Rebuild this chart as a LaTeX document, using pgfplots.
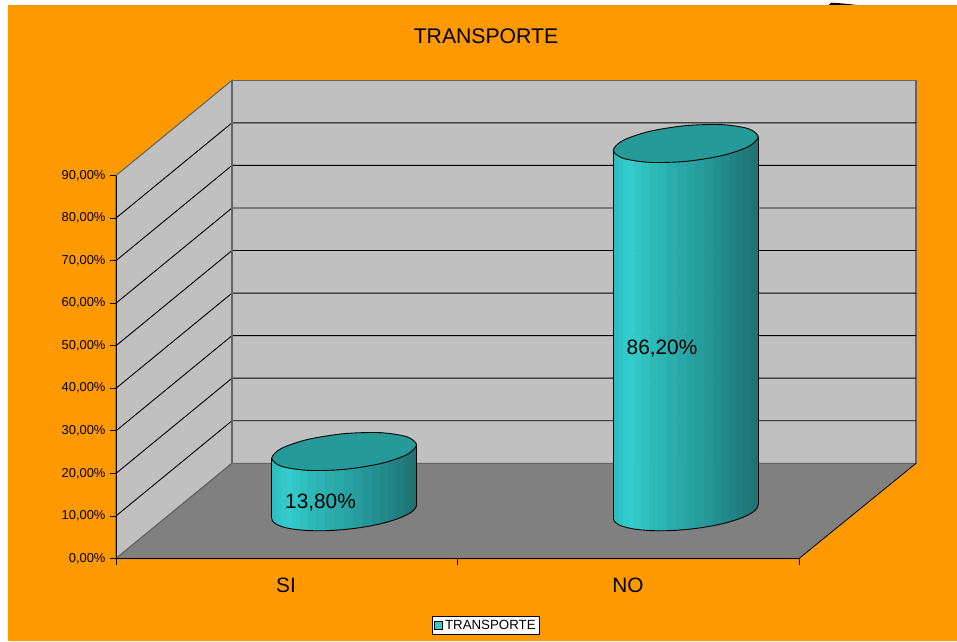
\documentclass[border=0pt]{standalone}
\usepackage{pgfplots}
\usepackage{pgfplotstable}
\usepackage{fontspec}
\setmainfont{Liberation Sans}
\pgfplotsset{compat=1.18}
\definecolor{orangebg}{RGB}{255,153,0}
\definecolor{wall}{RGB}{192,192,192}
\definecolor{floorc}{RGB}{128,128,128}
\definecolor{edgec}{RGB}{100,100,100}
\definecolor{topc}{RGB}{38,153,153}
\definecolor{legc}{RGB}{51,204,204}
\pgfplotstableread{
dx dy
72.4 1.58
62.7 3.47
36.2 4.43
0 4.20
-36.2 2.85
-62.7 0.73
-72.4 -1.58
-62.7 -3.47
-36.2 -4.43
0 -4.20
36.2 -2.85
62.7 -0.73
}\ellipsetable
\pgfplotstableread{
dx dy r
-72.4 -1.58 1
-71.8 -2.11 1
-69.9 -2.61 1
-66.9 -3.07 1
-62.7 -3.47 1
-57.4 -3.81 1
-51.2 -4.09 1
-44.1 -4.29 1
-36.2 -4.43 1
-27.7 -4.49 1
-18.7 -4.47 1
-9.4 -4.37 1
0 -4.20 1
9.4 -3.96 1
18.7 -3.65 1
27.7 -3.28 1
36.2 -2.85 1
44.1 -2.37 1
51.2 -1.85 1
57.4 -1.30 1
62.7 -0.73 1
66.9 -0.15 1
69.9 0.44 1
71.8 1.02 1
72.4 1.58 1
-72.4 -1.58 0
-71.8 -2.11 0
-69.9 -2.61 0
-66.9 -3.07 0
-62.7 -3.47 0
-57.4 -3.81 0
-51.2 -4.09 0
-44.1 -4.29 0
-36.2 -4.43 0
-27.7 -4.49 0
-18.7 -4.47 0
-9.4 -4.37 0
0 -4.20 0
9.4 -3.96 0
18.7 -3.65 0
27.7 -3.28 0
36.2 -2.85 0
44.1 -2.37 0
51.2 -1.85 0
57.4 -1.30 0
62.7 -0.73 0
66.9 -0.15 0
69.9 0.44 0
71.8 1.02 0
72.4 1.58 0
}\bodytable
\begin{document}
\begin{tikzpicture}
\useasboundingbox (0,0) rectangle (957pt,641pt);
\fill[orangebg] (8pt,0) rectangle (957pt,636pt);
\fill[black] (829pt,636pt) -- (831pt,638.3pt) -- (842pt,637.6pt) -- (857pt,636pt) -- cycle;
\begin{axis}[
  at={(116pt,82.5pt)}, anchor=south west,
  scale only axis, width=683pt, height=383pt,
  xmin=116, xmax=799, ymin=0, ymax=90,
  clip=false, axis on top,
  axis x line*=bottom, axis y line*=left,
  axis line style={black, line width=0.9pt},
  xtick={116,457.5,799}, xticklabels={,,},
  extra x ticks={286,628}, extra x tick labels={SI,NO},
  extra x tick style={major tick length=0pt},
  x tick label style={font=\fontsize{20.8}{24}\selectfont, text=black, yshift=-16pt},
  x tick style={black, line width=0.7pt},
  ytick={0,10,...,90},
  yticklabels={{0,00\%},{10,00\%},{20,00\%},{30,00\%},{40,00\%},{50,00\%},{60,00\%},{70,00\%},{80,00\%},{90,00\%}},
  y tick label style={font=\fontsize{12.9}{15}\selectfont, text=black, xshift=-0.5pt},
  y tick style={black, line width=0.7pt},
  tickwidth=6.5pt,
  tick align=outside, tick pos=lower,
  colormap={cylband}{rgb255(0)=(44,188,188) rgb255(12)=(51,206,206) rgb255(30)=(45,182,182) rgb255(50)=(41,165,165) rgb255(70)=(36,146,146) rgb255(86)=(32,128,128) rgb255(100)=(31,112,112)},
  point meta min=-72.4, point meta max=72.4,
  legend style={at={(axis cs:486,-15.7)}, anchor=center, draw=black, line width=0.7pt,
    fill=white, font=\fontsize{13.3}{15}\selectfont, inner xsep=2pt, inner ysep=1.5pt,
    /tikz/every even column/.style={column sep=2pt}, row sep=0pt},
  legend image code/.code={\draw[fill=legc,draw=black,line width=0.7pt] (0pt,-4pt) rectangle (8pt,4pt);},
]
% walls and floor
\addplot[fill=wall, draw=edgec, line width=1.1pt] coordinates {(116,0) (232,22.37) (232,112.37) (116,90)} -- cycle;
\addplot[fill=wall, draw=edgec, line width=1.1pt] coordinates {(232,22.37) (916,22.37) (916,112.37) (232,112.37)} -- cycle;
\addplot[fill=floorc, draw=edgec, line width=1.1pt] coordinates {(116,0) (799,0) (916,22.37) (232,22.37)} -- cycle;
\addplot[black, line width=0.6pt] coordinates {(799,0) (916,22.37)};
% gridlines
\addplot[black, line width=0.9pt] coordinates {(116,10) (232,32.37) (916,32.37)};
\addplot[black, line width=0.9pt] coordinates {(116,20) (232,42.37) (916,42.37)};
\addplot[black, line width=0.9pt] coordinates {(116,30) (232,52.37) (916,52.37)};
\addplot[black, line width=0.9pt] coordinates {(116,40) (232,62.37) (916,62.37)};
\addplot[black, line width=0.9pt] coordinates {(116,50) (232,72.37) (916,72.37)};
\addplot[black, line width=0.9pt] coordinates {(116,60) (232,82.37) (916,82.37)};
\addplot[black, line width=0.9pt] coordinates {(116,70) (232,92.37) (916,92.37)};
\addplot[black, line width=0.9pt] coordinates {(116,80) (232,102.37) (916,102.37)};
\addplot[edgec, line width=1.1pt] coordinates {(232,22.37) (232,112.37)};
% SI cylinder
\addplot[surf, shader=flat, mesh/rows=2, mesh/cols=25, mesh/check=false, point meta=explicit]
  table[x expr=\thisrow{dx}+344.1, y expr=\thisrow{dy}+11.0+\thisrow{r}*14.14, meta=dx] {\bodytable};
\addplot[black, line width=0.9pt, skip coords between index={0}{25}]
  table[x expr=\thisrow{dx}+344.1, y expr=\thisrow{dy}+11.0] {\bodytable};
\addplot[black, line width=0.9pt] coordinates {(271.7,23.56) (271.7,9.42)};
\addplot[black, line width=0.9pt] coordinates {(416.5,12.58) (416.5,26.72)};
\addplot[smooth cycle, fill=topc, draw=black, line width=0.9pt] table[x expr=\thisrow{dx}+344.1, y expr=\thisrow{dy}+25.14] {\ellipsetable};
% NO cylinder
\addplot[surf, shader=flat, mesh/rows=2, mesh/cols=25, mesh/check=false, point meta=explicit]
  table[x expr=\thisrow{dx}+685.7, y expr=\thisrow{dy}+11.0+\thisrow{r}*86.52, meta=dx] {\bodytable};
\addplot[black, line width=0.9pt, skip coords between index={0}{25}]
  table[x expr=\thisrow{dx}+685.7, y expr=\thisrow{dy}+11.0] {\bodytable};
\addplot[black, line width=0.9pt] coordinates {(613.3,95.94) (613.3,9.42)};
\addplot[black, line width=0.9pt] coordinates {(758.1,12.58) (758.1,99.1)};
\addplot[smooth cycle, fill=topc, draw=black, line width=0.9pt] table[x expr=\thisrow{dx}+685.7, y expr=\thisrow{dy}+97.52] {\ellipsetable};
\addlegendimage{area legend}
\addlegendentry{TRANSPORTE}
\node[font=\fontsize{20.8}{24}\selectfont, text=black] at (axis cs:320.5,13.1) {13,80\%};
\node[font=\fontsize{20.8}{24}\selectfont, text=black] at (axis cs:662,49.3) {86,20\%};
\node[font=\fontsize{21.2}{24}\selectfont, text=black] at (axis cs:486,122.8) {TRANSPORTE};
\end{axis}
\end{tikzpicture}
\end{document}
